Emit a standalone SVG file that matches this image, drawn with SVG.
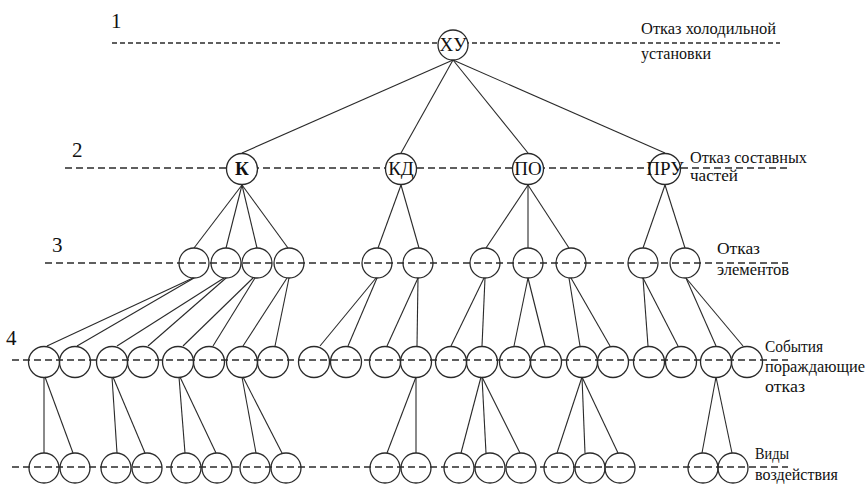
<svg xmlns="http://www.w3.org/2000/svg" width="867" height="484" viewBox="0 0 867 484">
  <style>
    .lvl { stroke: #2a2a2a; stroke-width: 1.3; stroke-dasharray: 7 4; fill: none; }
    .lvl1 { stroke-dasharray: 5 3; }
    .edge { stroke: #2a2a2a; stroke-width: 1.1; fill: none; }
    .node circle { stroke: #2a2a2a; stroke-width: 1.3; fill: none; }
    .node.top circle { fill: #ffffff; }
    .nt { font-family: "Liberation Serif", "Times New Roman", serif; font-size: 19px; fill: #111; text-anchor: middle; }
    .lab { font-family: "Liberation Serif", "Times New Roman", serif; font-size: 16px; fill: #111; }
    .num { font-family: "Liberation Serif", "Times New Roman", serif; font-size: 21px; fill: #111; }
  </style>
  <rect width="867" height="484" fill="#ffffff"/>

  <!-- level guide lines -->
  <g id="levels">
    <line class="lvl lvl1" x1="112" y1="43" x2="780" y2="43"/>
    <line class="lvl" x1="65" y1="168" x2="788" y2="168"/>
    <line class="lvl" x1="45" y1="263" x2="788" y2="263"/>
    <line class="lvl" x1="12" y1="360" x2="788" y2="360"/>
    <line class="lvl" x1="12" y1="467" x2="788" y2="467"/>
  </g>

  <!-- level numbers -->
  <g id="level-numbers">
    <text class="num" x="111" y="28">1</text>
    <text class="num" x="72" y="157">2</text>
    <text class="num" x="52" y="252">3</text>
    <text class="num" x="6" y="345">4</text>
  </g>

  <!-- level captions -->
  <g id="captions">
    <text class="lab" x="641" y="34" textLength="135" lengthAdjust="spacingAndGlyphs">Отказ холодильной</text>
    <text class="lab" x="641" y="59" textLength="70" lengthAdjust="spacingAndGlyphs">установки</text>
    <text class="lab" x="690" y="163" textLength="117" lengthAdjust="spacingAndGlyphs">Отказ составных</text>
    <text class="lab" x="690" y="181" textLength="48" lengthAdjust="spacingAndGlyphs">частей</text>
    <text class="lab" x="717" y="254" textLength="43" lengthAdjust="spacingAndGlyphs">Отказ</text>
    <text class="lab" x="717" y="275" textLength="72" lengthAdjust="spacingAndGlyphs">элементов</text>
    <text class="lab" x="765" y="352" textLength="58" lengthAdjust="spacingAndGlyphs">События</text>
    <text class="lab" x="765" y="372" textLength="100" lengthAdjust="spacingAndGlyphs">пораждающие</text>
    <text class="lab" x="765" y="392" textLength="40" lengthAdjust="spacingAndGlyphs">отказ</text>
    <text class="lab" x="755" y="459" textLength="34" lengthAdjust="spacingAndGlyphs">Виды</text>
    <text class="lab" x="755" y="480" textLength="83" lengthAdjust="spacingAndGlyphs">воздействия</text>
  </g>

  <!-- connectors -->
  <g id="connectors" class="edge">
    <!-- 1 -> 2 -->
    <line x1="453" y1="60" x2="242" y2="153"/>
    <line x1="453" y1="60" x2="401" y2="153"/>
    <line x1="453" y1="60" x2="528" y2="153"/>
    <line x1="453" y1="60" x2="665" y2="153"/>
    <!-- 2 -> 3 -->
    <line x1="242" y1="185" x2="194" y2="248"/>
    <line x1="242" y1="185" x2="226" y2="248"/>
    <line x1="242" y1="185" x2="257" y2="248"/>
    <line x1="242" y1="185" x2="288" y2="248"/>
    <line x1="401" y1="185" x2="378" y2="248"/>
    <line x1="401" y1="185" x2="419" y2="248"/>
    <line x1="528" y1="185" x2="486" y2="248"/>
    <line x1="528" y1="185" x2="528" y2="248"/>
    <line x1="528" y1="185" x2="569" y2="248"/>
    <line x1="665" y1="185" x2="643" y2="248"/>
    <line x1="665" y1="185" x2="685" y2="248"/>
    <!-- 3 -> 4 -->
    <line x1="193" y1="278" x2="47" y2="346"/>
    <line x1="194" y1="278" x2="77" y2="346"/>
    <line x1="224" y1="278" x2="117" y2="346"/>
    <line x1="226" y1="278" x2="148" y2="346"/>
    <line x1="253" y1="278" x2="183" y2="346"/>
    <line x1="255" y1="278" x2="213" y2="346"/>
    <line x1="287" y1="278" x2="243" y2="346"/>
    <line x1="289" y1="278" x2="275" y2="346"/>
    <line x1="376" y1="278" x2="320" y2="346"/>
    <line x1="377" y1="278" x2="348" y2="346"/>
    <line x1="418" y1="278" x2="387" y2="346"/>
    <line x1="418" y1="278" x2="417" y2="346"/>
    <line x1="484" y1="278" x2="451" y2="346"/>
    <line x1="485" y1="278" x2="482" y2="346"/>
    <line x1="528" y1="278" x2="514" y2="346"/>
    <line x1="528" y1="278" x2="545" y2="346"/>
    <line x1="569" y1="278" x2="580" y2="346"/>
    <line x1="571" y1="278" x2="610" y2="346"/>
    <line x1="643" y1="278" x2="648" y2="346"/>
    <line x1="643" y1="278" x2="678" y2="346"/>
    <line x1="686" y1="278" x2="716" y2="346"/>
    <line x1="686" y1="278" x2="743" y2="346"/>
    <!-- 4 -> 5 -->
    <line x1="44" y1="377" x2="44" y2="453"/>
    <line x1="45" y1="377" x2="73" y2="453"/>
    <line x1="112" y1="377" x2="117" y2="453"/>
    <line x1="113" y1="377" x2="145" y2="453"/>
    <line x1="179" y1="377" x2="185" y2="453"/>
    <line x1="180" y1="377" x2="216" y2="453"/>
    <line x1="242" y1="377" x2="256" y2="453"/>
    <line x1="243" y1="377" x2="282" y2="453"/>
    <line x1="416" y1="377" x2="387" y2="453"/>
    <line x1="416" y1="377" x2="416" y2="453"/>
    <line x1="481" y1="377" x2="461" y2="453"/>
    <line x1="482" y1="377" x2="486" y2="453"/>
    <line x1="482" y1="377" x2="520" y2="453"/>
    <line x1="582" y1="377" x2="557" y2="453"/>
    <line x1="582" y1="377" x2="585" y2="453"/>
    <line x1="582" y1="377" x2="618" y2="453"/>
    <line x1="716" y1="377" x2="702" y2="453"/>
    <line x1="716" y1="377" x2="732" y2="453"/>
  </g>

  <!-- level 1 -->
  <g id="n-xu" class="node top"><circle cx="453" cy="45" r="15"/><text class="nt" x="453" y="51">ХУ</text></g>

  <!-- level 2 -->
  <g id="n-k" class="node top"><circle cx="242" cy="169" r="15.5"/><text class="nt" x="242" y="175" font-weight="bold">К</text></g>
  <g id="n-kd" class="node top"><circle cx="401" cy="169" r="15.5"/><text class="nt" x="401" y="175">КД</text></g>
  <g id="n-po" class="node top"><circle cx="528" cy="169" r="15.5"/><text class="nt" x="528" y="175">ПО</text></g>
  <g id="n-pru" class="node top"><circle cx="665" cy="169" r="15.5"/><text class="nt" x="665" y="175">ПРУ</text></g>

  <!-- level 3 -->
  <g id="n3-1" class="node"><circle cx="194" cy="263" r="15"/></g>
  <g id="n3-2" class="node"><circle cx="226" cy="263" r="15"/></g>
  <g id="n3-3" class="node"><circle cx="257" cy="263" r="15"/></g>
  <g id="n3-4" class="node"><circle cx="289" cy="263" r="15"/></g>
  <g id="n3-5" class="node"><circle cx="377" cy="263" r="15"/></g>
  <g id="n3-6" class="node"><circle cx="418" cy="263" r="15"/></g>
  <g id="n3-7" class="node"><circle cx="485" cy="263" r="15"/></g>
  <g id="n3-8" class="node"><circle cx="528" cy="263" r="15"/></g>
  <g id="n3-9" class="node"><circle cx="571" cy="263" r="15"/></g>
  <g id="n3-10" class="node"><circle cx="643" cy="263" r="15"/></g>
  <g id="n3-11" class="node"><circle cx="685" cy="263" r="15"/></g>

  <!-- level 4 -->
  <g id="n4-1" class="node"><circle cx="44" cy="362" r="15.5"/></g>
  <g id="n4-2" class="node"><circle cx="75" cy="362" r="15.5"/></g>
  <g id="n4-3" class="node"><circle cx="112" cy="362" r="15.5"/></g>
  <g id="n4-4" class="node"><circle cx="143" cy="362" r="15.5"/></g>
  <g id="n4-5" class="node"><circle cx="178" cy="362" r="15.5"/></g>
  <g id="n4-6" class="node"><circle cx="209" cy="362" r="15.5"/></g>
  <g id="n4-7" class="node"><circle cx="242" cy="362" r="15.5"/></g>
  <g id="n4-8" class="node"><circle cx="273" cy="362" r="15.5"/></g>
  <g id="n4-9" class="node"><circle cx="314" cy="362" r="15.5"/></g>
  <g id="n4-10" class="node"><circle cx="346" cy="362" r="15.5"/></g>
  <g id="n4-11" class="node"><circle cx="385" cy="362" r="15.5"/></g>
  <g id="n4-12" class="node"><circle cx="416" cy="362" r="15.5"/></g>
  <g id="n4-13" class="node"><circle cx="451" cy="362" r="15.5"/></g>
  <g id="n4-14" class="node"><circle cx="482" cy="362" r="15.5"/></g>
  <g id="n4-15" class="node"><circle cx="515" cy="362" r="15.5"/></g>
  <g id="n4-16" class="node"><circle cx="546" cy="362" r="15.5"/></g>
  <g id="n4-17" class="node"><circle cx="582" cy="362" r="15.5"/></g>
  <g id="n4-18" class="node"><circle cx="613" cy="362" r="15.5"/></g>
  <g id="n4-19" class="node"><circle cx="649" cy="362" r="15.5"/></g>
  <g id="n4-20" class="node"><circle cx="681" cy="362" r="15.5"/></g>
  <g id="n4-21" class="node"><circle cx="716" cy="362" r="15.5"/></g>
  <g id="n4-22" class="node"><circle cx="747" cy="362" r="15.5"/></g>

  <!-- level 5 -->
  <g id="n5-1" class="node"><circle cx="44" cy="468" r="15"/></g>
  <g id="n5-2" class="node"><circle cx="75" cy="468" r="15"/></g>
  <g id="n5-3" class="node"><circle cx="116" cy="468" r="15"/></g>
  <g id="n5-4" class="node"><circle cx="147" cy="468" r="15"/></g>
  <g id="n5-5" class="node"><circle cx="186" cy="468" r="15"/></g>
  <g id="n5-6" class="node"><circle cx="217" cy="468" r="15"/></g>
  <g id="n5-7" class="node"><circle cx="255" cy="468" r="15"/></g>
  <g id="n5-8" class="node"><circle cx="286" cy="468" r="15"/></g>
  <g id="n5-9" class="node"><circle cx="385" cy="468" r="15"/></g>
  <g id="n5-10" class="node"><circle cx="416" cy="468" r="15"/></g>
  <g id="n5-11" class="node"><circle cx="459" cy="468" r="15"/></g>
  <g id="n5-12" class="node"><circle cx="490" cy="468" r="15"/></g>
  <g id="n5-13" class="node"><circle cx="521" cy="468" r="15"/></g>
  <g id="n5-14" class="node"><circle cx="559" cy="468" r="15"/></g>
  <g id="n5-15" class="node"><circle cx="590" cy="468" r="15"/></g>
  <g id="n5-16" class="node"><circle cx="620" cy="468" r="15"/></g>
  <g id="n5-17" class="node"><circle cx="703" cy="468" r="15"/></g>
  <g id="n5-18" class="node"><circle cx="733" cy="468" r="15"/></g>
</svg>
